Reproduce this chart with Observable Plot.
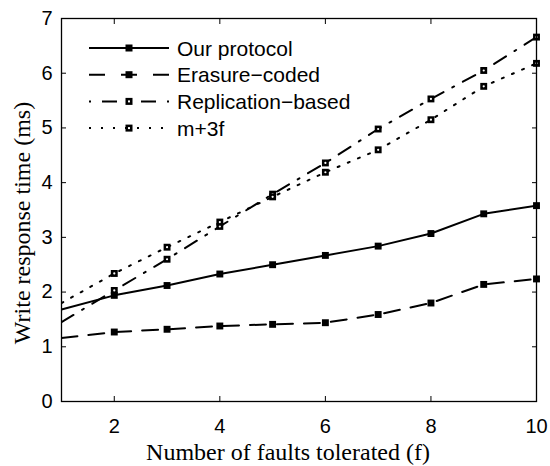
<!DOCTYPE html>
<html>
<head>
<meta charset="utf-8">
<script src="https://cdn.jsdelivr.net/npm/d3@7"></script>
<script src="https://cdn.jsdelivr.net/npm/@observablehq/plot@0.6"></script>
<style>
  html, body { margin: 0; padding: 0; background: #fff; }
  #chart { width: 550px; height: 466px; }
</style>
</head>
<body>
<div id="chart"></div>
<script>
const faults = [1, 2, 3, 4, 5, 6, 7, 8, 9, 10];
const ourProtocol      = [1.68, 1.94, 2.12, 2.33, 2.50, 2.67, 2.84, 3.07, 3.43, 3.58];
const erasureCoded     = [1.16, 1.27, 1.32, 1.38, 1.41, 1.44, 1.59, 1.80, 2.14, 2.24];
const replicationBased = [1.45, 2.03, 2.60, 3.20, 3.79, 4.36, 4.98, 5.53, 6.05, 6.66];
const m3f              = [1.80, 2.34, 2.82, 3.28, 3.74, 4.19, 4.60, 5.15, 5.76, 6.18];
const seriesNames = ["Our protocol", "Erasure\u2212coded", "Replication\u2212based", "m+3f"];
const xTicks = [2, 4, 6, 8, 10];
const yTicks = [0, 1, 2, 3, 4, 5, 6, 7];
const xLabel = "Number of faults tolerated (f)";
const yLabel = "Write response time (ms)";

const seriesValues = [ourProtocol, erasureCoded, replicationBased, m3f];
const dashes = [null, "16,11", "14,10,2,10", "2,9"];
const legendDashes = [null, "16,16", "2,11,15,11", "2,10"];
const hollow = [false, false, true, true];

const rows = [];
seriesValues.forEach((vals, si) => {
  vals.forEach((v, i) => rows.push({series: seriesNames[si], si, f: faults[i], v}));
});

const marks = [];
seriesNames.forEach((name, si) => {
  const d = rows.filter(r => r.si === si);
  marks.push(Plot.line(d, {x: "f", y: "v", stroke: "black", strokeWidth: 2, strokeDasharray: dashes[si], clip: true}));
});
seriesNames.forEach((name, si) => {
  const d = rows.filter(r => r.si === si && r.f >= 2);
  marks.push(Plot.dot(d, {x: "f", y: "v", symbol: "square", r: 3.9, fill: "black", stroke: "none"}));
  if (hollow[si]) marks.push(Plot.dot(d, {x: "f", y: "v", r: 1.1, fill: "white", stroke: "none"}));
});

const font = "'Liberation Sans', Arial, Helvetica, sans-serif";
const serif = "'Liberation Serif', 'Times New Roman', serif";
marks.push(
  Plot.frame({stroke: "black", strokeWidth: 1.3}),
  Plot.axisX(xTicks, {anchor: "bottom", tickSize: -5, tickPadding: 22, tickFormat: d3.format("d"), label: null, fontSize: 20, fill: "black"}),
  Plot.axisX(xTicks, {anchor: "top", tickSize: -5, tickFormat: () => "", label: null}),
  Plot.axisY(yTicks, {anchor: "left", tickSize: -5, tickPadding: 14, tickFormat: d3.format("d"), label: null, fontSize: 20, fill: "black"}),
  Plot.axisY(yTicks, {anchor: "right", tickSize: -5, tickFormat: () => "", label: null})
);

const svg = Plot.plot({
  width: 550,
  height: 466,
  marginLeft: 61,
  marginRight: 14,
  marginTop: 18,
  marginBottom: 65,
  x: {domain: [1, 10]},
  y: {domain: [0, 7]},
  style: {fontFamily: font, color: "black", background: "white", overflow: "visible"},
  marks
});

const sel = d3.select(svg);
// axis titles
sel.append("text")
  .attr("x", 288).attr("y", 460)
  .attr("text-anchor", "middle")
  .attr("font-family", serif)
  .attr("font-size", 24).attr("fill", "black")
  .text(xLabel);
sel.append("text")
  .attr("transform", "translate(30, 223) rotate(-90)")
  .attr("text-anchor", "middle")
  .attr("font-family", serif)
  .attr("font-size", 24).attr("fill", "black")
  .text(yLabel);

// legend
const lg = sel.append("g").attr("text-anchor", "start");
seriesNames.forEach((name, si) => {
  const y = 48 + si * 26.7;
  lg.append("line").attr("x1", 89).attr("x2", 169).attr("y1", y).attr("y2", y)
    .attr("stroke", "black").attr("stroke-width", 2)
    .attr("stroke-dasharray", legendDashes[si]);
  lg.append("rect").attr("x", 129 - 3.5).attr("y", y - 3.5).attr("width", 7).attr("height", 7).attr("fill", "black");
  if (hollow[si]) lg.append("rect").attr("x", 128).attr("y", y - 1).attr("width", 2).attr("height", 2).attr("fill", "white");
  lg.append("text").attr("x", 177).attr("y", y).attr("dy", "0.36em")
    .attr("text-anchor", "start")
    .attr("font-family", font).attr("font-size", 21).attr("fill", "black").text(name);
});

document.getElementById("chart").appendChild(svg);
</script>
</body>
</html>
